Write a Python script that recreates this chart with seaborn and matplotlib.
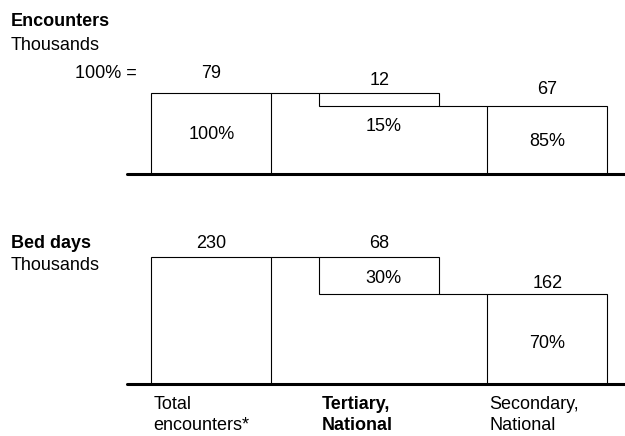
import matplotlib
matplotlib.use("Agg")
import matplotlib.pyplot as plt
import seaborn as sns
import pandas as pd

# ---- data ----
categories = ["Total\nencounters*", "Tertiary,\nNational", "Secondary,\nNational"]
enc_values = [79, 12, 67]          # total, tertiary part, secondary part
enc_pct = ["100%", "15%", "85%"]
bed_values = [230, 68, 162]
bed_pct = ["", "30%", "70%"]

# ---- style ----
sns.set_theme(style="white")
plt.rcParams["font.family"] = ["Liberation Sans", "DejaVu Sans"]
plt.rcParams["text.color"] = "black"
FS = 13
LW = 0.8

W, H = 625, 436
fig = plt.figure(figsize=(W / 100, H / 100), dpi=100)

BAR_W = 0.714
XLIM = (-0.504, 2.4625)


def add_axes(top_px, base_px):
    return fig.add_axes([126.7 / W, 1 - base_px / H, 1 - 126.7 / W, (base_px - top_px) / H])


def waterfall(ax, values, pcts, ytop, val_off, pct_off):
    total, part, rest = values
    df = pd.DataFrame({"cat": categories, "height": values, "bottom": [0, rest, 0]})
    sns.barplot(data=df, x="cat", y="height", bottom=df["bottom"].tolist(),
                width=BAR_W, color="white", saturation=1, edgecolor="black",
                linewidth=LW, errorbar=None, ax=ax, zorder=2)
    # connectors
    ax.plot([0 + BAR_W / 2, 1 - BAR_W / 2], [total, total], color="black", lw=LW, zorder=1)
    ax.plot([1 + BAR_W / 2, 2 - BAR_W / 2], [rest, rest], color="black", lw=LW, zorder=1)
    ax.axhline(0, color="black", lw=2.2, zorder=3, clip_on=False)
    ax.set_xlim(*XLIM)
    ax.set_ylim(0, ytop)
    ax.set_xticks([])
    ax.set_yticks([])
    ax.set_xlabel("")
    ax.set_ylabel("")
    for s in ax.spines.values():
        s.set_visible(False)
    tops = [total, total, rest]
    mids = [total / 2, rest + part / 2, rest / 2]
    for i, v in enumerate(values):
        ax.annotate(f"{v}", xy=(i, tops[i]), xytext=(0, val_off[i] * 0.72),
                    textcoords="offset points", ha="center", va="center",
                    fontsize=FS, color="black")
        if pcts[i]:
            ax.annotate(pcts[i], xy=(i, mids[i]), xytext=(3 if i == 1 else 0, pct_off[i] * 0.72),
                        textcoords="offset points", ha="center", va="center",
                        fontsize=FS, color="black")


# top panel: encounters
ax1 = add_axes(60, 174.2)
waterfall(ax1, enc_values, enc_pct, 114.2 / 1.024, [20.3, 12.6, 16.5], [-0.3, -27.2, -1.3])

# bottom panel: bed days
ax2 = add_axes(230, 383.5)
waterfall(ax2, bed_values, bed_pct, 153.5 / 0.5513, [13.4, 13.4, 10.7], [0, -3, -4.5])

# category labels under bottom panel
for i, cat in enumerate(categories):
    weight = "bold" if i == 1 else "normal"
    for j, line in enumerate(cat.split("\n")):
        ax2.annotate(line, xy=(i - BAR_W / 2, 0), xytext=(2 * 0.72, -(20.5 + 22.0 * j) * 0.72),
                     textcoords="offset points", ha="left", va="center",
                     fontsize=FS, fontweight=weight, color="black")

# panel titles
fig.text(10.7 / W, 1 - 21.7 / H, "Encounters", fontsize=FS, fontweight="bold", va="center", ha="left")
fig.text(10.7 / W, 1 - 45 / H, "Thousands", fontsize=FS, va="center", ha="left")
fig.text(137 / W, 1 - 73 / H, "100% =", fontsize=FS, va="center", ha="right")
fig.text(10.7 / W, 1 - 243.3 / H, "Bed days", fontsize=FS, fontweight="bold", va="center", ha="left")
fig.text(10.7 / W, 1 - 265.7 / H, "Thousands", fontsize=FS, va="center", ha="left")

fig.savefig("out.png", dpi=100, facecolor="white")
